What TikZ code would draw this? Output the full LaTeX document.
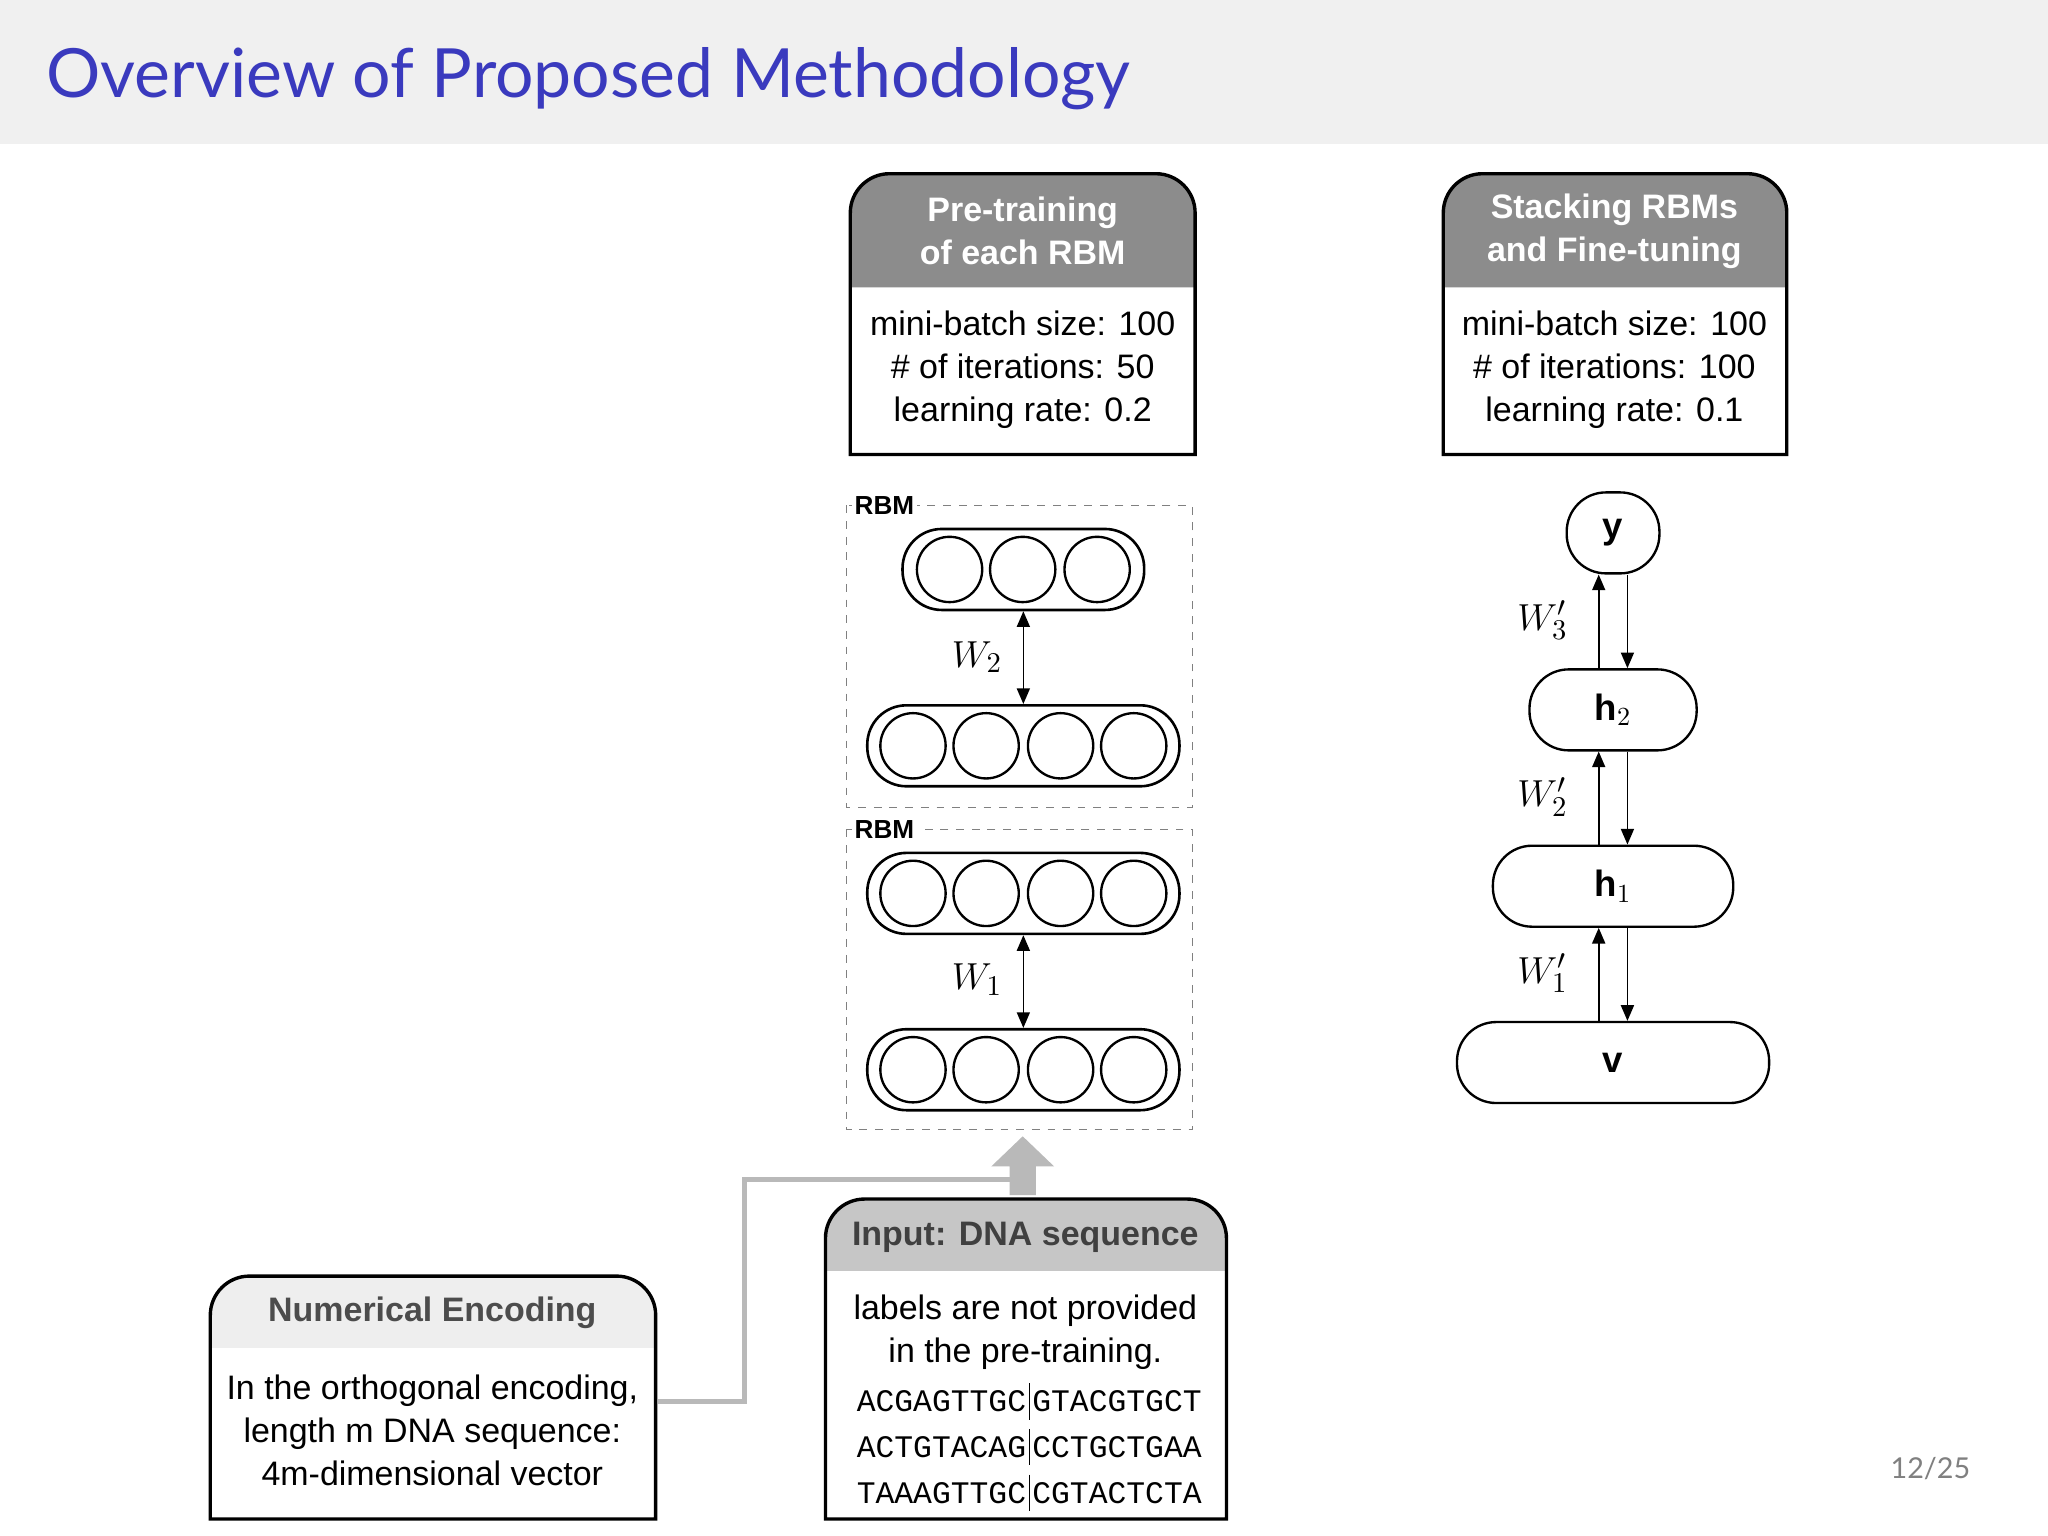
\documentclass[tikz,border=0pt]{standalone}
\usepackage{fontspec}
\setmainfont{Liberation Sans}
\newfontfamily\titlefont{Lato}
\newfontfamily\monofont{Liberation Mono}
\usetikzlibrary{arrows.meta}
\definecolor{hdrbg}{RGB}{240,240,240}
\definecolor{titleblue}{RGB}{58,58,190}
\definecolor{darkhdr}{RGB}{140,140,140}
\definecolor{midhdr}{RGB}{198,198,198}
\definecolor{lighthdr}{RGB}{238,238,238}
\definecolor{flowgray}{RGB}{185,185,185}
\begin{document}
\begin{tikzpicture}[x=0.5pt,y=-0.5pt,
  boxline/.style={line width=1.3pt},
  body/.style={align=center,font=\fontsize{13}{16.5}\selectfont},
  layer/.style={draw,line width=1pt,rounded corners=15pt,minimum height=31pt},
  unit/.style={draw,circle,line width=0.9pt,minimum size=25pt,inner sep=0pt},
  rnode/.style={draw,line width=0.9pt,rounded corners=15pt,minimum height=31pt,font=\fontsize{14}{16}\selectfont},
  dbl/.style={line width=0.6pt,{Triangle[length=6pt,width=5pt]}-{Triangle[length=6pt,width=5pt]}},
  one/.style={line width=0.6pt,-{Triangle[length=6pt,width=5pt]}},
  wlab/.style={font=\fontsize{15}{16}\selectfont},
  rbmlab/.style={font=\bfseries\fontsize{10}{12}\selectfont,fill=white,inner sep=1pt}]
\useasboundingbox (0,0) rectangle (1568,1176);
\fill[white] (0,0) rectangle (1568,1176);
\fill[hdrbg] (0,0) rectangle (1568,110);
\node[anchor=base west,text=titleblue,font=\titlefont\fontsize{26}{30}\selectfont,inner sep=0pt] (title) at (35,75) {Overview of Proposed Methodology};
\node[anchor=base,text=gray,font=\titlefont\fontsize{11}{12}\selectfont] (page) at (1478,1132) {12/25};

% Pre-training box
\fill[darkhdr] (651,220) [rounded corners=15pt] -- (651,133) -- (915,133) [sharp corners] -- (915,220) -- cycle;
\draw[boxline] (651,348) [rounded corners=15pt] -- (651,133) -- (915,133) [sharp corners] -- (915,348) -- cycle;
\node[body,text=white,font=\bfseries\fontsize{13}{16.5}\selectfont] (pth) at (783,177) {Pre-training\\of each RBM};
\node[body] (ptb) at (783,283) {mini-batch size: 100\\\# of iterations: 50\\learning rate: 0.2};

% Stacking box
\fill[darkhdr] (1105,220) [rounded corners=15pt] -- (1105,133) -- (1368,133) [sharp corners] -- (1368,220) -- cycle;
\draw[boxline] (1105,348) [rounded corners=15pt] -- (1105,133) -- (1368,133) [sharp corners] -- (1368,348) -- cycle;
\node[body,text=white,font=\bfseries\fontsize{13}{16.5}\selectfont] (sth) at (1236,177) {Stacking RBMs\\and Fine-tuning};
\node[body] (stb) at (1236,283) {mini-batch size: 100\\\# of iterations: 100\\learning rate: 0.1};

% RBM dashed boxes
\draw[dashed,gray,line width=0.5pt] (648,387) rectangle (913,618);
\node[rbmlab,anchor=west] (rbm2) at (652,387) {RBM};
\draw[dashed,gray,line width=0.5pt] (648,635) rectangle (913,865);
\node[rbmlab,anchor=west] (rbm1) at (652,635) {RBM};

% layers
\node[layer,minimum width=92.5pt] (L4) at (783.5,436) {};
\node[layer,minimum width=119.5pt] (L3) at (783.5,571) {};
\node[layer,minimum width=119.5pt] (L2) at (783.5,684) {};
\node[layer,minimum width=119.5pt] (L1) at (783.5,819) {};
\foreach \x [count=\i] in {727,783,840}{\node[unit] (u4\i) at (\x,436) {};}
\foreach \L/\y in {3/571,2/684,1/819}{
  \foreach \x [count=\i] in {699,755,812,868}{\node[unit] (u\L\i) at (\x,\y) {};}}
\draw[dbl] (L3.north) -- (L4.south);
\draw[dbl] (L1.north) -- (L2.south);
\node[wlab] (w2) at (748,503) {$W_2$};
\node[wlab] (w1) at (748,750) {$W_1$};

% right stack
\node[rnode,minimum width=35.5pt] (y) at (1235,408) {$\mathbf{y}$};
\node[rnode,minimum width=64pt] (h2) at (1235,543.5) {$\mathbf{h}_2$};
\node[rnode,minimum width=92pt] (h1) at (1235,678.5) {$\mathbf{h}_1$};
\node[rnode,minimum width=119.5pt] (v) at (1235,813.5) {$\mathbf{v}$};
\foreach \a/\b in {h2/y,h1/h2,v/h1}{
  \draw[one] ([xshift=-5.5pt]\a.north) -- ([xshift=-5.5pt]\b.south);
  \draw[one] ([xshift=5.5pt]\b.south) -- ([xshift=5.5pt]\a.north);}
\node[wlab] (w3p) at (1181,475) {$W_3'$};
\node[wlab] (w2p) at (1181,610) {$W_2'$};
\node[wlab] (w1p) at (1181,745) {$W_1'$};

% Input box
\fill[midhdr] (632,973) [rounded corners=15pt] -- (632,918) -- (939,918) [sharp corners] -- (939,973) -- cycle;
\draw[boxline] (632,1163) [rounded corners=15pt] -- (632,918) -- (939,918) [sharp corners] -- (939,1163) -- cycle;
\node[body,text=black!75,font=\bfseries\fontsize{13}{16.5}\selectfont] (inh) at (785,947) {Input: DNA sequence};
\node[body] (inb) at (785,1020) {labels are not provided\\in the pre-training.};
\foreach \a/\b/\y in {ACGAGTTGC/GTACGTGCT/1073,ACTGTACAG/CCTGCTGAA/1108,TAAAGTTGC/CGTACTCTA/1143}{
  \node[anchor=base east,inner sep=0pt,font=\monofont\fontsize{12}{14}\selectfont] at (786,\y+8) {\a};
  \node[anchor=base west,inner sep=0pt,font=\monofont\fontsize{12}{14}\selectfont] at (790,\y+8) {\b};
  \draw[line width=0.5pt] (788,\y-14) -- (788,\y+14);}

% Numerical encoding box
\fill[lighthdr] (161,1032) [rounded corners=15pt] -- (161,977) -- (502,977) [sharp corners] -- (502,1032) -- cycle;
\draw[boxline] (161,1163) [rounded corners=15pt] -- (161,977) -- (502,977) [sharp corners] -- (502,1163) -- cycle;
\node[body,text=black!70,font=\bfseries\fontsize{13}{16.5}\selectfont] (neh) at (331,1005) {Numerical Encoding};
\node[body] (neb) at (331,1095) {In the orthogonal encoding,\\length m DNA sequence:\\4m-dimensional vector};

% flow arrow
\coordinate (encout) at (504,1073);
\coordinate (join) at (783,903);
\draw[flowgray,line width=2.2pt] (encout) -- (570,1073) |- (join);
\fill[flowgray] (773,915) -- (773,893) -- (759,893) -- (783,870) -- (807,893) -- (793,893) -- (793,915) -- cycle;
\end{tikzpicture}
\end{document}
